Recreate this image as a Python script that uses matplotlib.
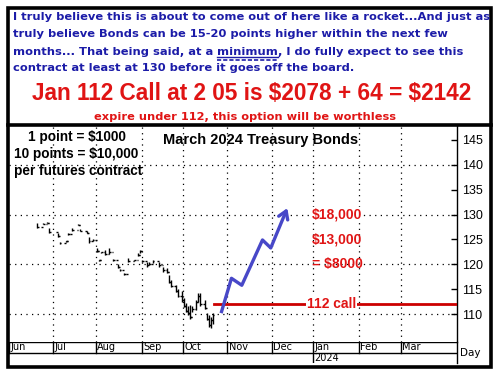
import matplotlib
matplotlib.use("Agg")
import matplotlib.pyplot as plt
from matplotlib.lines import Line2D
from matplotlib.patches import Rectangle

W, H = 496, 373

# header texts
note_lines = [
    "I truly believe this is about to come out of here like a rocket...And just as",
    "truly believe Bonds can be 15-20 points higher within the next few",
    ("months... That being said, at a ", "minimum", ", I do fully expect to see this"),
    "contract at least at 130 before it goes off the board.",
]
offer_text = "Jan 112 Call at 2 05 is $2078 + 64 = $2142"
warn_text = "expire under 112, this option will be worthless"
title = "March 2024 Treasury Bonds"
point_notes = ["1 point = $1000", "10 points = $10,000", "per futures contract"]

# trading-day index of each month start
months = ["Jun", "Jul", "Aug", "Sep", "Oct", "Nov", "Dec", "Jan", "Feb", "Mar"]
month_start = [-0.5, 21, 41.5, 64, 83.5, 105, 126.5, 146.5, 168.5, 189]
year_label = "2024"

# daily bars (trading-day index, high, low, close)
bar_x = [13, 16, 18, 19, 23, 24, 27, 28, 30, 33, 34, 37, 38, 40, 42, 43, 44, 46, 48, 50,
         52, 53, 55, 57, 60, 62, 63, 64, 66, 67, 69, 72, 74, 76, 77, 78, 80, 81, 83, 84,
         85, 86, 87, 88, 90, 91, 92, 94, 95, 96, 97, 98]
bar_hi = [128.3, 128.3, 128.5, 127.3, 126.3, 124.5, 124.7, 126.3, 127.3, 128.1, 127.1, 126.7,
          125.5, 125.1, 123.3, 120.9, 122.5, 122.9, 123.3, 121.1, 120.1, 119.1, 118.2, 121.3,
          120.9, 122.3, 122.9, 120.9, 120.5, 120.5, 120.9, 120.5, 119.5, 119.3, 117.8, 116.8,
          115.8, 115.0, 114.6, 113.2, 112.2, 111.6, 111.8, 111.6, 112.8, 114.2, 114.2, 112.8,
          110.2, 109.8, 109.4, 110.2]
bar_lo = [127.3, 128.1, 128.3, 126.3, 125.5, 124.1, 124.5, 125.9, 126.7, 127.9, 126.7, 126.3,
          124.3, 124.7, 122.5, 120.7, 122.3, 121.9, 122.1, 120.7, 119.3, 118.7, 117.8, 120.5,
          120.7, 121.7, 122.3, 120.5, 119.5, 119.9, 120.3, 119.5, 118.5, 118.2, 116.2, 115.4,
          114.4, 113.4, 112.4, 111.4, 110.4, 109.8, 109.0, 110.4, 110.8, 112.4, 111.6, 111.0,
          108.8, 107.4, 107.2, 108.0]
bar_cl = [127.5, 128.2, 128.4, 126.5, 125.7, 124.2, 124.6, 126.1, 127.0, 128.0, 126.8, 126.4,
          124.6, 124.9, 122.7, 120.8, 122.4, 122.1, 122.4, 120.9, 119.5, 118.9, 118.0, 120.7,
          120.8, 121.9, 122.6, 120.7, 119.8, 120.1, 120.6, 119.8, 118.8, 118.5, 116.5, 115.7,
          114.7, 113.7, 112.8, 111.7, 110.7, 110.2, 109.5, 111.0, 112.5, 113.6, 112.0, 111.3,
          109.0, 107.8, 108.9, 109.9]

# projected path
path_x = [102, 107, 112, 122, 126, 134]
path_y = [110.2, 117.2, 115.8, 124.9, 123.3, 131.3]

strike = 112
strike_start = 98.5
strike_label_x = 155.5
profit_labels = ["$18,000", "$13,000", "= $8000"]
profit_levels = [130, 125, 120]
profit_x = 158


def fx(px):
    return px / W


def fy(py):
    return 1 - py / H


fig = plt.figure(figsize=(W / 100, H / 100), dpi=100)
fig.patch.set_facecolor("white")

blue = "#1c1ca8"
red = "#e01414"
hfont = dict(color=blue, fontsize=8.25, fontweight="bold", family="DejaVu Sans",
             ha="left", va="center", parse_math=False)

# header
for i, y in enumerate([17, 34, 52, 68]):
    line = note_lines[i]
    if isinstance(line, tuple):
        r = fig.canvas.get_renderer()
        x = fx(13)
        for j, part in enumerate(line):
            t = fig.text(x, fy(y), part, **hfont)
            bb = t.get_window_extent(renderer=r)
            if j == 1:
                x0, x1 = bb.x0 / W, bb.x1 / W
                fig.add_artist(Line2D([x0, x1], [fy(57), fy(57)], color=blue, lw=1))
                fig.add_artist(Line2D([x0, x1], [fy(60), fy(60)], color=blue, lw=1.2,
                                      ls=(0, (2.5, 1.2))))
            x = bb.x1 / W
    else:
        fig.text(fx(13), fy(y), line, **hfont)

fig.text(fx(252), fy(93), offer_text, color=red, fontsize=16.3, fontweight="bold",
         family="Liberation Sans", ha="center", va="center", parse_math=False)
fig.text(fx(245), fy(117), warn_text, color=red, fontsize=8.2, fontweight="bold",
         family="DejaVu Sans", ha="center", va="center", parse_math=False)

# main price axes
ax = fig.add_axes([fx(9), fy(342), fx(457) - fx(9), fy(126) - fy(342)])
ax.set_xlim(-0.5, 216)
ax.set_ylim(104.4, 147.8)
for s in ["top", "left", "bottom"]:
    ax.spines[s].set_visible(False)
ax.spines["right"].set_linewidth(1)
ax.yaxis.tick_right()
ax.set_yticks([110, 115, 120, 125, 130, 135, 140, 145])
ax.tick_params(axis="y", direction="in", length=4, width=1, pad=4, labelsize=9)
for lab in ax.get_yticklabels():
    lab.set_family("Liberation Sans")
ax.set_xticks([])

dots = (0, (1, 3.5))
for v in [110, 120, 130, 140]:
    ax.axhline(v, color="black", lw=0.9, ls=dots, zorder=1)
for m in month_start[1:]:
    ax.axvline(m, color="black", lw=0.9, ls=dots, zorder=1)

ax.vlines(bar_x, bar_lo, bar_hi, color="black", lw=1, zorder=3)
ax.hlines(bar_cl, bar_x, [x + 0.8 for x in bar_x], color="black", lw=1, zorder=3)
ax.hlines(bar_cl[:-1], [x - 0.8 for x in bar_x[1:]], bar_x[1:], color="black", lw=1, zorder=3)

ax.plot([strike_start, 216], [strike, strike], color="#cc0000", lw=2, zorder=4)
ax.text(strike_label_x, strike, "112 call", color=red, fontsize=10, fontweight="bold",
        family="Liberation Sans", ha="center", va="center", zorder=5,
        bbox=dict(facecolor="white", edgecolor="none", pad=0.5))

ax.plot(path_x[:-1], path_y[:-1], color="#4848c8", lw=2.4, solid_capstyle="butt", zorder=5)
ax.annotate("", xy=(path_x[-1], path_y[-1]), xytext=(path_x[-2], path_y[-2]),
            arrowprops=dict(arrowstyle="->,head_length=0.55,head_width=0.35",
                            color="#4848c8", lw=2.4, shrinkA=0, shrinkB=0), zorder=5)

for lab, lv in zip(profit_labels, profit_levels):
    ax.text(profit_x, lv, lab, color=red, fontsize=10, fontweight="bold",
            family="Liberation Sans", ha="center", va="center", zorder=5, parse_math=False,
            bbox=dict(facecolor="white", edgecolor="none", pad=0.3) if lv == 130 else None)

nfont = dict(color="black", fontsize=9.8, fontweight="bold", family="Liberation Sans",
             va="center", parse_math=False)
fig.text(fx(261), fy(140), title, ha="center", **dict(nfont, fontsize=10.5))
fig.text(fx(77), fy(137), point_notes[0], ha="center", **nfont)
fig.text(fx(14), fy(154), point_notes[1], ha="left", **nfont)
fig.text(fx(14), fy(171), point_notes[2], ha="left", **nfont)

# month band
bx = fig.add_axes([fx(9), fy(363), fx(457) - fx(9), fy(342) - fy(363)])
bx.set_xlim(-0.5, 216)
bx.set_ylim(0, 2)
bx.axis("off")
bx.axhline(2, color="black", lw=1)
bx.axhline(1, color="black", lw=1)
for m, name in zip(month_start, months):
    top = 0 if name == "Jan" else 1
    bx.plot([m, m], [top, 2], color="black", lw=1)
    bx.text(m + 0.6, 1.5, name, fontsize=7, family="DejaVu Sans", ha="left", va="center")
bx.text(month_start[7] + 0.6, 0.5, year_label, fontsize=7, family="DejaVu Sans",
        ha="left", va="center")
fig.add_artist(Line2D([fx(457), fx(457)], [fy(342), fy(363)], color="black", lw=1))
fig.text(fx(460), fy(353), "Day", fontsize=7.5, family="DejaVu Sans", ha="left", va="center")

# frames
fig.add_artist(Rectangle((fx(7.5), fy(367)), fx(491) - fx(7.5), fy(8) - fy(367),
                         fill=False, edgecolor="black", lw=2.6))
fig.add_artist(Line2D([fx(7.5), fx(491)], [fy(125), fy(125)], color="black", lw=2.6))

fig.savefig("out.png", dpi=100)
